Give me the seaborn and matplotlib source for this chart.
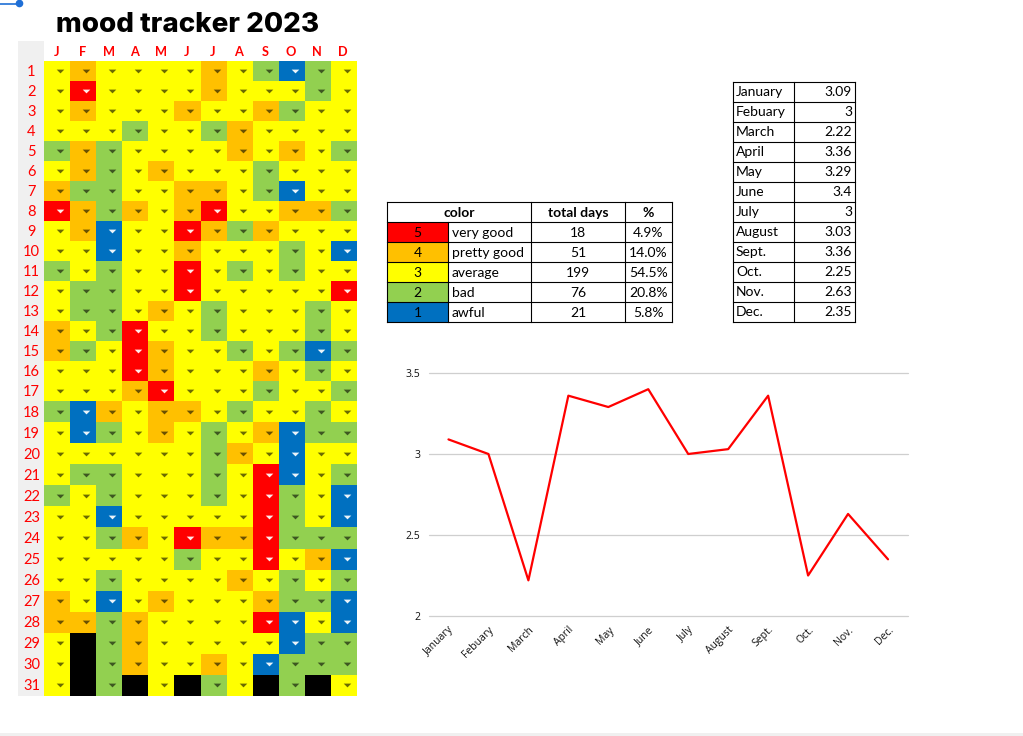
import numpy as np
import pandas as pd
import seaborn as sns
import matplotlib
matplotlib.use("Agg")
import matplotlib.pyplot as plt
from matplotlib.colors import ListedColormap
from matplotlib.patches import Rectangle

# ---- data ----
month_initials = ["J", "F", "M", "A", "M", "J", "J", "A", "S", "O", "N", "D"]
month_names = ["January", "Febuary", "March", "April", "May", "June", "July",
               "August", "Sept.", "Oct.", "Nov.", "Dec."]
month_avg = [3.09, 3, 2.22, 3.36, 3.29, 3.4, 3, 3.03, 3.36, 2.25, 2.63, 2.35]
month_avg_text = ["3.09", "3", "2.22", "3.36", "3.29", "3.4", "3", "3.03", "3.36", "2.25", "2.63", "2.35"]
mood_scores = ["5", "4", "3", "2", "1"]
mood_labels = ["very good", "pretty good", "average", "bad", "awful"]
mood_days = ["18", "51", "199", "76", "21"]
mood_pct = ["4.9%", "14.0%", "54.5%", "20.8%", "5.8%"]
# 0 = no such day (black)
days = [
    [3, 4, 3, 3, 3, 3, 4, 3, 2, 1, 2, 3],
    [3, 5, 3, 3, 3, 3, 4, 3, 3, 3, 2, 3],
    [3, 4, 3, 3, 3, 4, 3, 3, 4, 2, 3, 3],
    [3, 3, 3, 2, 3, 3, 2, 4, 3, 3, 3, 3],
    [2, 4, 2, 3, 3, 3, 3, 4, 3, 4, 3, 2],
    [3, 4, 2, 3, 4, 3, 3, 3, 2, 3, 3, 3],
    [4, 2, 2, 3, 3, 4, 4, 3, 2, 1, 3, 3],
    [5, 4, 2, 4, 3, 4, 5, 3, 3, 4, 4, 2],
    [3, 4, 1, 3, 3, 5, 4, 2, 4, 3, 3, 3],
    [3, 3, 1, 3, 3, 4, 3, 3, 3, 2, 3, 1],
    [2, 3, 2, 3, 3, 5, 3, 2, 3, 2, 3, 3],
    [3, 2, 2, 3, 3, 5, 3, 3, 3, 3, 3, 5],
    [3, 2, 2, 3, 4, 3, 2, 3, 3, 3, 2, 3],
    [4, 3, 2, 5, 3, 3, 2, 3, 3, 3, 2, 3],
    [4, 2, 3, 5, 4, 3, 3, 2, 3, 2, 1, 2],
    [3, 3, 3, 5, 4, 3, 3, 3, 4, 3, 2, 3],
    [3, 3, 3, 4, 5, 3, 3, 3, 2, 3, 3, 2],
    [2, 1, 4, 3, 4, 4, 3, 2, 3, 3, 2, 3],
    [3, 1, 2, 3, 4, 3, 2, 3, 4, 1, 2, 2],
    [3, 3, 3, 3, 3, 3, 2, 4, 3, 1, 3, 3],
    [3, 2, 2, 3, 3, 3, 2, 3, 5, 1, 3, 2],
    [2, 3, 2, 3, 3, 3, 2, 3, 5, 2, 3, 1],
    [3, 3, 1, 3, 3, 3, 3, 3, 5, 2, 3, 1],
    [3, 3, 2, 4, 3, 5, 4, 4, 5, 2, 2, 2],
    [3, 3, 3, 3, 3, 2, 3, 3, 5, 3, 4, 1],
    [3, 3, 2, 3, 3, 3, 3, 4, 3, 2, 3, 2],
    [4, 3, 1, 3, 4, 3, 3, 3, 4, 2, 2, 1],
    [4, 4, 2, 4, 3, 3, 3, 3, 5, 1, 3, 1],
    [3, 0, 2, 4, 3, 3, 3, 3, 3, 1, 2, 2],
    [3, 0, 2, 4, 3, 3, 4, 3, 1, 2, 2, 2],
    [3, 0, 2, 0, 3, 0, 2, 3, 0, 2, 0, 3],
]

# ---- styles ----
W, H = 1023, 736
palette = ["#000000", "#0070C0", "#92D050", "#FFFF00", "#FFC000", "#FF0000"]
SANS = "Lato"
sns.set_theme(style="white")
plt.rcParams["font.family"] = [SANS, "DejaVu Sans"]

fig = plt.figure(figsize=(W / 100, H / 100), dpi=100, facecolor="white")


def px_axes(x0, y0, x1, y1, **kw):
    return fig.add_axes([x0 / W, 1 - y1 / H, (x1 - x0) / W, (y1 - y0) / H], **kw)


# overlay in pixel coordinates for tables and sheet furniture
ov = px_axes(0, 0, W, H, zorder=0)
ov.set_xlim(0, W)
ov.set_ylim(H, 0)
ov.axis("off")

# row-header band
ov.add_patch(Rectangle((18, 41), 26, 655, fc="#F0F0F0", ec="none"))
# selection handle and the lower window edge
ov.plot([0, 17], [4, 4], color="#1F6FD6", lw=1.2, solid_capstyle="butt")
ov.plot([19], [3], "o", color="#1F6FD6", ms=5.5, mec="none")
ov.add_patch(Rectangle((0, 733), W, 3, fc="#F0F0F0", ec="none"))

# title
ov.text(188, 25, "mood tracker 2023", ha="center", va="center", fontsize=20,
        fontweight=800, family="Inter", color="black")

# heatmap: upper rows are 20 px, lower rows 21 px high as in the sheet
SPLIT = 17
X0, X1 = 44, 357
parts = [(days[:SPLIT], 61, 401, 1), (days[SPLIT:], 401, 696, SPLIT + 1)]
cmap = ListedColormap(palette)
tri = [(-1, -0.5), (1, -0.5), (0, 0.5)]
for rows, y0, y1, first in parts:
    ax = px_axes(X0, y0, X1, y1, zorder=1)
    df = pd.DataFrame(rows, columns=range(12), index=range(first, first + len(rows)))
    sns.heatmap(df, ax=ax, cmap=cmap, vmin=-0.5, vmax=5.5, cbar=False,
                xticklabels=False, yticklabels=False, linewidths=0)
    ax.set_xlabel("")
    ax.set_ylabel("")
    arr = np.array(rows)
    r, c = np.nonzero(arr)
    vals = arr[r, c]
    light = (vals == 5) | (vals == 1)
    xs = c + 0.5 + 3 / 26
    ys = r + 0.5
    # marker y points up on screen; flip the shape so it points downward
    down = [(a, -b) for a, b in tri]
    ax.scatter(xs[~light], ys[~light], marker=down, s=30, color="#000000", alpha=0.58,
               linewidths=0, zorder=3)
    ax.scatter(xs[light], ys[light], marker=down, s=30, color="#FFFFFF", alpha=0.92,
               linewidths=0, zorder=3)
    # day numbers
    for i in range(len(rows)):
        yy = y0 + (i + 0.5) * (y1 - y0) / len(rows) + 1
        ov.text(31.5, yy, str(first + i), ha="center", va="center", fontsize=10.5, color="#FF0000")

# month header
for i, m in enumerate(month_initials):
    ov.text(X0 + 13 + i * 26, 52.5, m, ha="center", va="center", fontsize=9.2,
            fontweight="bold", color="#FF0000")

# legend table
tx = [387, 448, 531, 625, 672]
ty0, rh = 202, 20
n = len(mood_scores) + 1
for i, col in enumerate(palette[:0:-1]):
    ov.add_patch(Rectangle((tx[0], ty0 + rh * (i + 1)), tx[1] - tx[0], rh, fc=col, ec="none"))
lk = dict(color="black", lw=0.8, solid_capstyle="projecting")
for i in range(n + 1):
    ov.plot([tx[0], tx[-1]], [ty0 + i * rh] * 2, **lk)
for x in (tx[0], tx[2], tx[3], tx[4]):
    ov.plot([x, x], [ty0, ty0 + n * rh], **lk)
ov.plot([tx[1], tx[1]], [ty0 + rh, ty0 + n * rh], **lk)
fs = 10
ov.text((tx[0] + tx[2]) / 2, ty0 + rh / 2 + 1, "color", ha="center", va="center", fontsize=fs, fontweight="bold", color="black")
ov.text((tx[2] + tx[3]) / 2, ty0 + rh / 2 + 1, "total days", ha="center", va="center", fontsize=fs, fontweight="bold", color="black")
ov.text((tx[3] + tx[4]) / 2, ty0 + rh / 2 + 1, "%", ha="center", va="center", fontsize=fs, fontweight="bold", color="black")
for i in range(5):
    yy = ty0 + rh * (i + 1) + rh / 2 + 1
    ov.text((tx[0] + tx[1]) / 2, yy, mood_scores[i], ha="center", va="center", fontsize=fs, color="black")
    ov.text(tx[1] + 4, yy, mood_labels[i], ha="left", va="center", fontsize=fs, color="black")
    ov.text((tx[2] + tx[3]) / 2, yy, mood_days[i], ha="center", va="center", fontsize=fs, color="black")
    ov.text((tx[3] + tx[4]) / 2, yy, mood_pct[i], ha="center", va="center", fontsize=fs, color="black")

# averages table
ax0, ax1, ax2 = 733, 794, 855
ay0 = 81.5
for i in range(len(month_names) + 1):
    ov.plot([ax0, ax2], [ay0 + i * rh] * 2, **lk)
for x in (ax0, ax1, ax2):
    ov.plot([x, x], [ay0, ay0 + len(month_names) * rh], **lk)
for i, (nm, tv) in enumerate(zip(month_names, month_avg_text)):
    yy = ay0 + i * rh + rh / 2 + 1
    ov.text(ax0 + 3, yy, nm, ha="left", va="center", fontsize=fs, color="black")
    ov.text(ax2 - 3, yy, tv, ha="right", va="center", fontsize=fs, color="black")

# line chart
lax = px_axes(428.5, 373, 908, 616, zorder=1)
lax.patch.set_alpha(0)
line_df = pd.DataFrame({"month": month_names, "avg": month_avg})
sns.lineplot(data=line_df, x="month", y="avg", ax=lax, color="#FF0000", linewidth=1.6, sort=False, zorder=3)
lax.set_xlim(-0.5, 11.5)
lax.set_ylim(2, 3.5)
lax.set_yticks([2, 2.5, 3, 3.5])
lax.set_yticklabels(["2", "2.5", "3", "3.5"])
lax.set_xlabel("")
lax.set_ylabel("")
lax.grid(axis="y", color="#CFCFCF", lw=0.9)
lax.set_axisbelow(True)
for gl in lax.get_ygridlines():
    gl.set_clip_on(False)
sns.despine(ax=lax, left=True, bottom=True, top=True, right=True)
lax.tick_params(axis="y", length=0, pad=6, labelsize=7.5, labelcolor="#111111")
lax.tick_params(axis="x", length=0, pad=6, labelsize=7.5, labelcolor="#111111")
for lb in lax.get_yticklabels() + lax.get_xticklabels():
    lb.set_family("Open Sans")
for lb in lax.get_xticklabels():
    lb.set_rotation(45)
    lb.set_ha("right")
    lb.set_rotation_mode("anchor")

fig.savefig("out.png", dpi=100, facecolor="white")
